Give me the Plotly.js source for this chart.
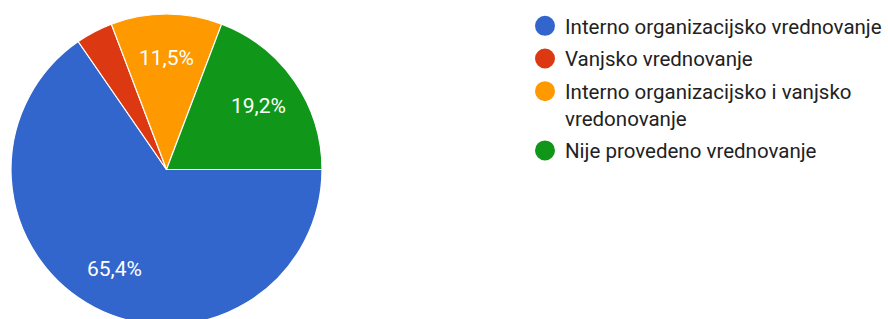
<!DOCTYPE html>
<html>
<head>
<meta charset="utf-8">
<script src="https://cdn.plot.ly/plotly-3.0.1.min.js"></script>
<style>
html,body{margin:0;padding:0;overflow:hidden;background:#fff;}
#chart{width:888px;height:340px;}
</style>
</head>
<body>
<div id="chart"></div>
<script>
// Data
const categories = [
  "Interno organizacijsko vrednovanje",
  "Vanjsko vrednovanje",
  "Interno organizacijsko i vanjsko vredonovanje",
  "Nije provedeno vrednovanje"
];
const legendLabels = [
  "Interno organizacijsko vrednovanje",
  "Vanjsko vrednovanje",
  "Interno organizacijsko i vanjsko<br>vredonovanje",
  "Nije provedeno vrednovanje"
];
const counts = [17, 1, 3, 5];
const showLabel = [true, false, true, true];
const colors = ["#3366cc", "#dc3912", "#ff9900", "#109618"];

const FONT = "Roboto, Arial, sans-serif";
const W = 888, H = 340;
// pie geometry (layout)
const CX = 166.5, CY = 169.5, R = 155.5;
const START = 90;          // degrees clockwise from 12 o'clock
const LABEL_FRAC = 0.72;   // radial position of percentage labels

const pie = {
  type: "pie",
  labels: categories,
  values: counts,
  sort: false,
  direction: "clockwise",
  rotation: START,
  marker: {colors: colors, line: {color: "#ffffff", width: 1.2}},
  textinfo: "none",
  hoverinfo: "label+percent",
  showlegend: false,
  domain: {x: [(CX - R) / W, (CX + R) / W], y: [(H - CY - R) / H, (H - CY + R) / H]}
};

// percentage labels placed at slice mid-angles computed from the data
const total = counts.reduce((a, b) => a + b, 0);
const annotations = [];
let cum = 0;
counts.forEach((v, i) => {
  const mid = (START + 360 * (cum + v / 2) / total) * Math.PI / 180;
  cum += v;
  if (!showLabel[i]) return;
  const px = CX + LABEL_FRAC * R * Math.sin(mid);
  const py = CY - LABEL_FRAC * R * Math.cos(mid);
  const pct = (100 * v / total).toFixed(1).replace(".", ",") + "%";
  annotations.push({
    xref: "paper", yref: "paper",
    x: px / W, y: 1 - py / H,
    xanchor: "center", yanchor: "middle",
    text: pct, showarrow: false,
    font: {color: "#ffffff", size: 21, family: FONT}
  });
});

const legendTraces = legendLabels.map((name, i) => ({
  type: "scatter",
  mode: "markers",
  x: [null], y: [null],
  name: name,
  legendgroup: "g" + i,
  marker: {symbol: "circle", size: 16, color: colors[i], line: {color: colors[i], width: 4}},
  hoverinfo: "skip",
  showlegend: true
}));

const layout = {
  width: W,
  height: H,
  margin: {l: 0, r: 0, t: 0, b: 0},
  paper_bgcolor: "#ffffff",
  plot_bgcolor: "#ffffff",
  separators: ",.",
  font: {family: FONT, color: "#222222"},
  xaxis: {visible: false, domain: [0.99, 1]},
  yaxis: {visible: false},
  annotations: annotations,
  showlegend: true,
  legend: {
    x: 525 / W, xanchor: "left",
    y: 1 - 6 / H, yanchor: "top",
    font: {size: 20.5, family: FONT, color: "#222222"},
    traceorder: "grouped",
    tracegroupgap: 3,
    valign: "top",
    itemclick: false,
    itemdoubleclick: false,
    bgcolor: "rgba(0,0,0,0)"
  }
};

Plotly.newPlot("chart", [pie].concat(legendTraces), layout, {displayModeBar: false, staticPlot: true});
</script>
</body>
</html>
